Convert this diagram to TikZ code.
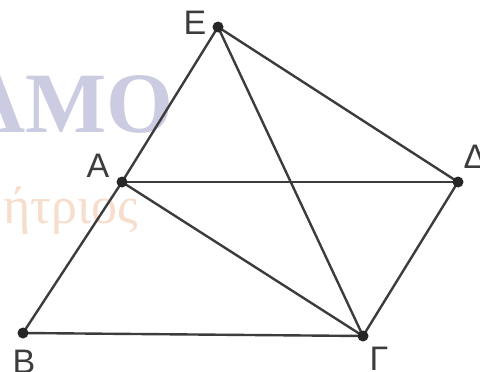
\documentclass[tikz,border=0pt]{standalone}
\usepackage{fontspec}
\setmainfont{Liberation Sans}
\newfontfamily\wmfont{Liberation Serif}
\begin{document}
\begin{tikzpicture}[x=1pt,y=-1pt,
  seg/.style={color0,line width=2.4pt,line cap=round},
  pt/.style={circle,fill=color1,inner sep=0pt,minimum size=11pt},
  lbl/.style={color0,font=\fontsize{34}{40}\selectfont,inner sep=0pt}]
\definecolor{color0}{HTML}{3C3C3C}
\definecolor{color1}{HTML}{262626}
\definecolor{color2}{HTML}{CBCBE2}
\definecolor{color3}{HTML}{F7DDCC}
\useasboundingbox (0,0) rectangle (480,372);
\begin{scope}
\clip (0,0) rectangle (480,372);
\node[color2,anchor=base east,inner sep=0pt,font=\wmfont\bfseries\fontsize{86}{86}\selectfont] (wm1) at (174,132) {AMO};
\node[color3,anchor=base east,inner sep=0pt,font=\wmfont\fontsize{52}{52}\selectfont] (wm2) at (138,223) {ήτριος};
\end{scope}
\coordinate (E) at (218,27);
\coordinate (A) at (122,182);
\coordinate (D) at (458,182);
\coordinate (B) at (23,333);
\coordinate (G) at (363,336);
\draw[seg] (B) -- (A);
\draw[seg] (A) -- (E);
\draw[seg] (E) -- (D);
\draw[seg] (E) -- (G);
\draw[seg] (A) -- (D);
\draw[seg] (A) -- (G);
\draw[seg] (D) -- (G);
\draw[seg] (B) -- (G);
\node[pt] (pE) at (E) {};
\node[pt] (pA) at (A) {};
\node[pt] (pD) at (D) {};
\node[pt] (pB) at (B) {};
\node[pt] (pG) at (G) {};
\node[lbl] (lE) at (195,22.5) {Ε};
\node[lbl] (lA) at (98,165.5) {Α};
\node[lbl] (lD) at (475,156.5) {Δ};
\node[lbl] (lB) at (24,362) {Β};
\node[lbl] (lG) at (379,359) {Γ};
\end{tikzpicture}
\end{document}
